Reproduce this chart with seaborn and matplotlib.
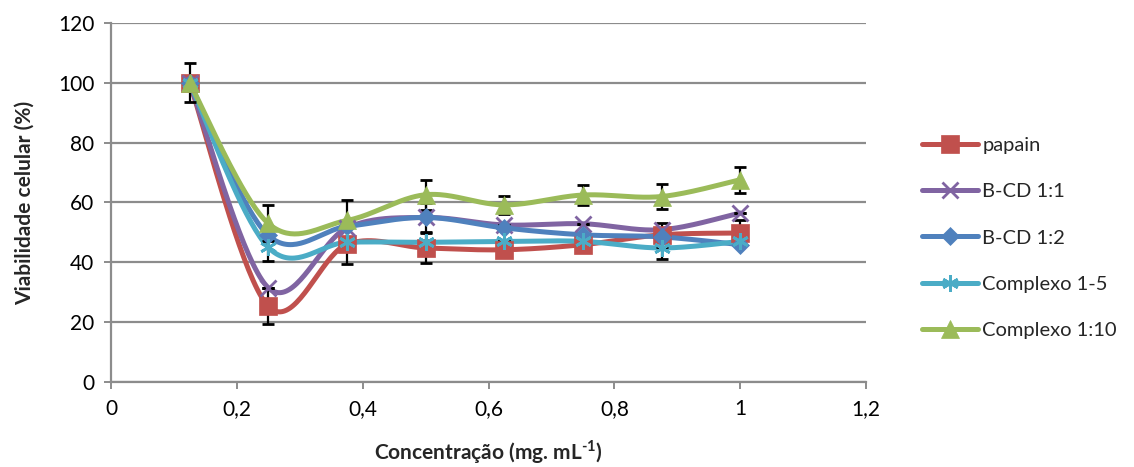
import numpy as np
import pandas as pd
import matplotlib
matplotlib.use("Agg")
import matplotlib.pyplot as plt
from matplotlib.lines import Line2D
from matplotlib.ticker import FuncFormatter, MultipleLocator
import seaborn as sns

# Cell viability (%) versus concentration (mg/mL)
conc = [0.125, 0.25, 0.375, 0.5, 0.625, 0.75, 0.875, 1.0]

papain = [100, 25.3, 46.0, 44.8, 44.2, 45.9, 49.2, 49.8]
bcd_11 = [100, 31.5, 51.5, 55.0, 52.5, 52.9, 50.9, 56.5]
bcd_12 = [100, 49.0, 52.0, 55.0, 51.5, 49.2, 48.5, 45.9]
comp_15 = [100, 45.0, 46.7, 46.7, 47.0, 47.0, 44.8, 47.0]
comp_110 = [100, 53.0, 54.0, 62.6, 59.2, 62.5, 62.0, 67.6]

# standard deviations
papain_err = [6.5, 6.0, 6.5, 5.0, 0.0, 0.0, 4.0, 4.2]
bcd_11_err = [0.0, 0.0, 0.0, 0.0, 0.0, 0.0, 0.0, 0.0]
bcd_12_err = [0.0, 0.0, 0.0, 4.7, 0.0, 0.0, 0.0, 0.0]
comp_15_err = [0.0, 4.5, 0.0, 0.0, 0.0, 0.0, 3.7, 0.0]
comp_110_err = [0.0, 6.0, 6.7, 5.0, 3.0, 3.2, 4.3, 4.3]

labels = ["papain", "B-CD 1:1", "B-CD 1:2", "Complexo 1-5", "Complexo 1:10"]
values = [papain, bcd_11, bcd_12, comp_15, comp_110]
errors = [papain_err, bcd_11_err, bcd_12_err, comp_15_err, comp_110_err]
colors = ["#C0504D", "#8064A2", "#4F81BD", "#4BACC6", "#9BBB59"]
markers = ["s", "x", "D", (6, 2, 0), "^"]
msizes = [13, 12, 9.5, 12, 13]

FS = 14.5

sns.set_theme(style="white")
plt.rcParams["font.family"] = ["Lato", "DejaVu Sans"]
plt.rcParams["mathtext.fontset"] = "custom"
plt.rcParams["mathtext.rm"] = "Lato:bold"
plt.rcParams["mathtext.bf"] = "Lato:bold"


def smooth_curve(xs, ys, n=40):
    """Cubic Bezier smoothing through every point (Catmull-Rom style)."""
    pts = np.column_stack([xs, ys]).astype(float)
    m = len(pts)
    out = []
    for i in range(m - 1):
        p0 = pts[i - 1] if i > 0 else pts[i]
        p1 = pts[i]
        p2 = pts[i + 1]
        p3 = pts[i + 2] if i + 2 < m else pts[i + 1]
        c1 = p1 + (p2 - p0) / 6.0
        c2 = p2 - (p3 - p1) / 6.0
        t = np.linspace(0, 1, n)[:, None]
        seg = ((1 - t) ** 3) * p1 + 3 * ((1 - t) ** 2) * t * c1 + 3 * (1 - t) * t ** 2 * c2 + t ** 3 * p2
        out.append(seg if i == 0 else seg[1:])
    return np.vstack(out)


frames = []
for lab, vals in zip(labels, values):
    c = smooth_curve(conc, vals)
    frames.append(pd.DataFrame({"x": c[:, 0], "y": c[:, 1], "serie": lab}))
curves = pd.concat(frames, ignore_index=True)

fig = plt.figure(figsize=(11.34, 4.67), dpi=100)
ax = fig.add_axes([111 / 1134, 1 - 382 / 467, (866 - 111) / 1134, (382 - 23) / 467])

sns.lineplot(data=curves, x="x", y="y", hue="serie", hue_order=labels,
             palette=colors, sort=False, estimator=None, units="serie",
             linewidth=3.6, legend=False, ax=ax, zorder=2)

for vals, err in zip(values, errors):
    ax.errorbar(conc, vals, yerr=err, fmt="none", ecolor="black",
                elinewidth=1.6, capsize=4.5, capthick=2.0, zorder=3)


def edge_width(mk):
    return 2.0 if (mk == "x" or isinstance(mk, tuple)) else 0.5


for vals, col, mk, ms in zip(values, colors, markers, msizes):
    ax.plot(conc, vals, linestyle="none", marker=mk, markersize=ms,
            color=col, markeredgecolor=col, markeredgewidth=edge_width(mk),
            zorder=4)

ax.set_xlim(0, 1.2)
ax.set_ylim(0, 120)
ax.xaxis.set_major_locator(MultipleLocator(0.2))
ax.yaxis.set_major_locator(MultipleLocator(20))


def comma_fmt(v, pos):
    s = f"{v:.1f}".rstrip("0").rstrip(".")
    return s.replace(".", ",")


ax.xaxis.set_major_formatter(FuncFormatter(comma_fmt))
ax.grid(axis="y", color="#8C8C8C", linewidth=1.6)
ax.set_axisbelow(True)
for side in ("top", "right"):
    ax.spines[side].set_visible(False)
for side in ("left", "bottom"):
    ax.spines[side].set_color("#8C8C8C")
    ax.spines[side].set_linewidth(1.6)
ax.tick_params(axis="both", which="major", direction="out", length=5,
               width=1.4, color="#8C8C8C", labelsize=15, labelcolor="black",
               pad=7, left=True, bottom=True)

ax.set_ylabel("Viabilidade celular (%)", fontsize=15, fontweight="bold",
              labelpad=17)
ax.set_xlabel(r"Concentração (mg. mL$^{\text{-1}}$)", fontsize=15,
              fontweight="bold", labelpad=14)

handles = [Line2D([0], [0], color=col, linewidth=3.6, marker=mk,
                  markersize=ms, markeredgecolor=col,
                  markeredgewidth=edge_width(mk))
           for col, mk, ms in zip(colors, markers, msizes)]
fig.legend(handles, labels, loc="center left",
           bbox_to_anchor=(922 / 1134, 1 - 238 / 467), frameon=False,
           fontsize=FS, handlelength=2.8, handletextpad=0.2,
           labelspacing=1.45, borderpad=0, borderaxespad=0)

fig.savefig("out.png", dpi=100)
